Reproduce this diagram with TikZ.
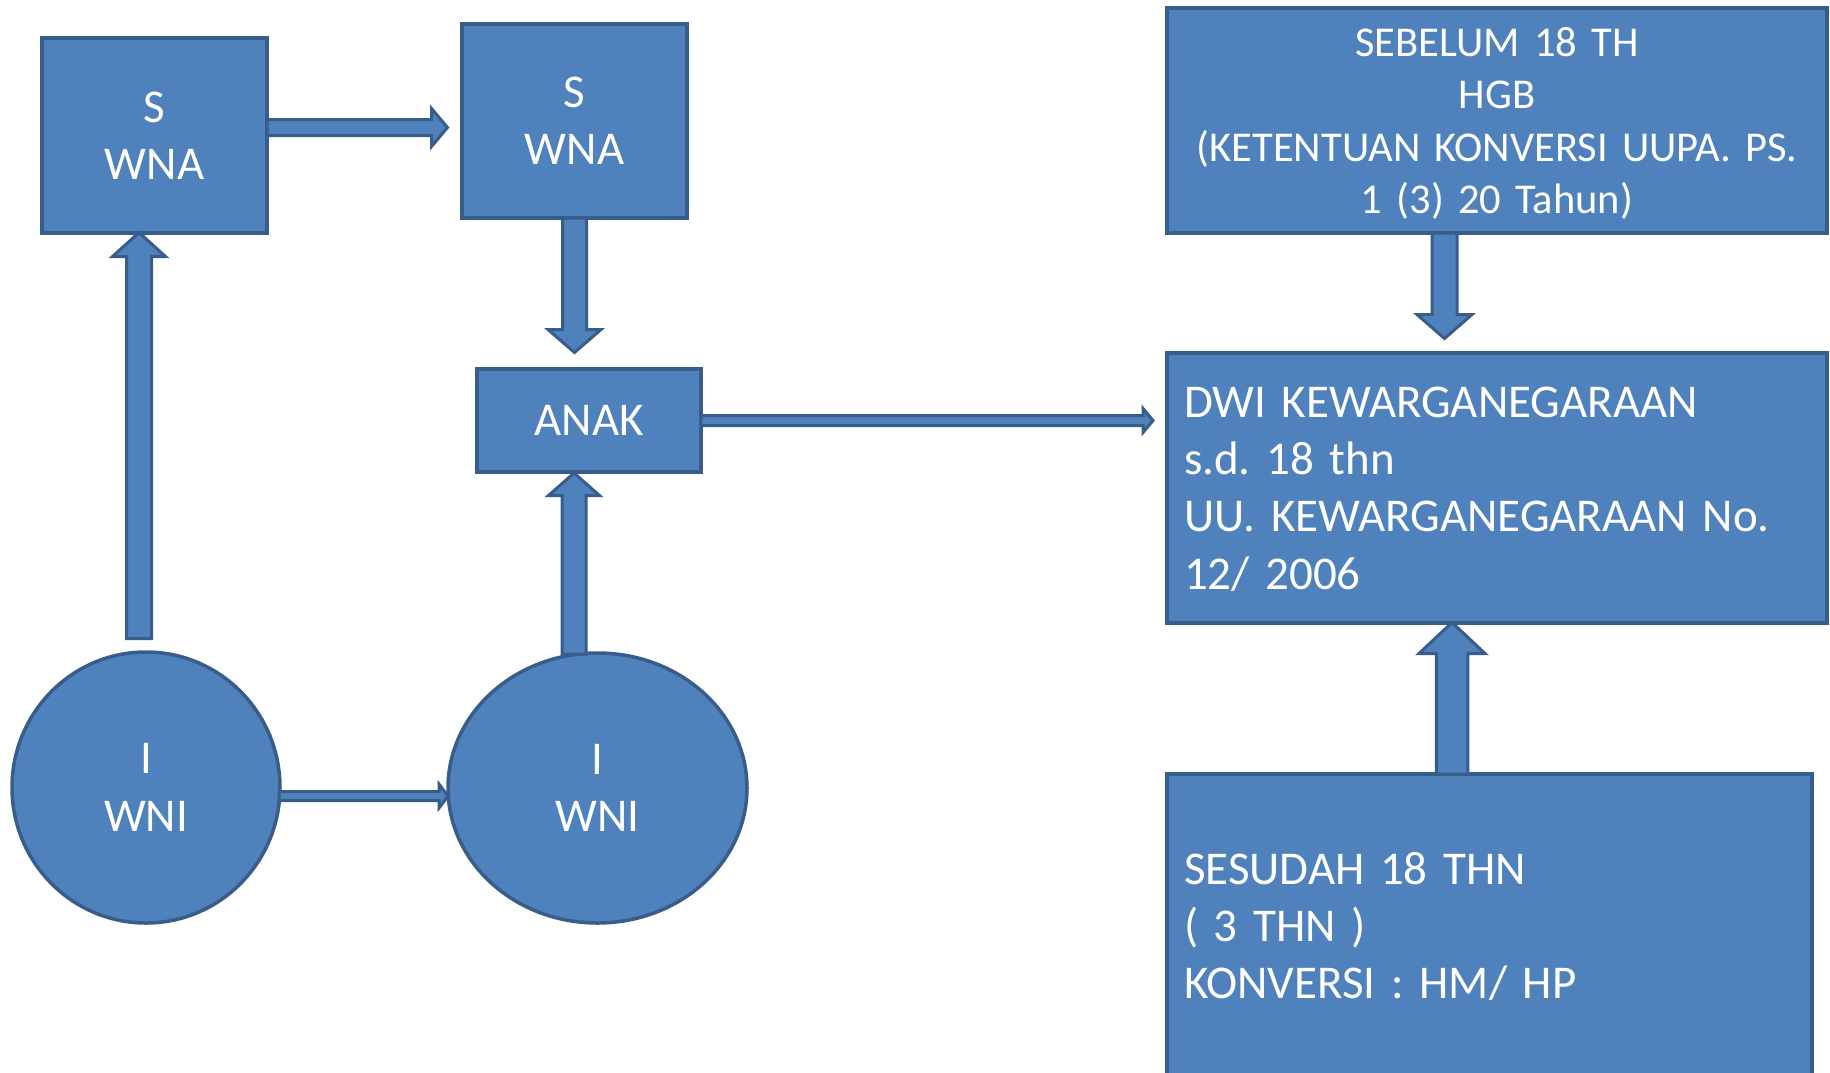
\documentclass[tikz,border=0pt]{standalone}
\usepackage{fontspec}
\setmainfont{Carlito}
\frenchspacing
\usetikzlibrary{calc,shapes.geometric}
\definecolor{bfill}{HTML}{4F81BD}
\definecolor{bline}{HTML}{385D8A}
\newcommand\blockarr[5]{%
  \coordinate (ah) at ($(#2)!#5!(#1)$);
  \filldraw[barrow] ($(#1)!#3!90:(#2)$) -- ($(ah)!#3!90:(#2)$) -- ($(ah)!#4!90:(#2)$) -- (#2)
    -- ($(ah)!#4!-90:(#2)$) -- ($(ah)!#3!-90:(#2)$) -- ($(#1)!#3!-90:(#2)$) -- cycle;}
\begin{document}
\begin{tikzpicture}[x=1pt,y=-1pt,
  base/.style={draw=bline,fill=bfill,line width=3.5pt,text=white,outer sep=0pt,inner sep=0pt,
    font=\fontsize{47}{57.4}\selectfont\frenchspacing},
  rbox/.style={base,rectangle},
  ebox/.style={base,ellipse},
  barrow/.style={draw=bline,fill=bfill,line width=3pt,line join=miter}]
\useasboundingbox (0,0) rectangle (1830,1072);
\clip (0,0) rectangle (1830,1072);
% nodes
\node[rbox,minimum width=225pt,minimum height=195pt,align=center] (S1) at (154.5,135.5) {S\\WNA};
\node[rbox,minimum width=225pt,minimum height=194pt,align=center] (S2) at (574.5,121) {S\\WNA};
\node[rbox,minimum width=224pt,minimum height=103pt] (ANAK) at (589,420.5) {ANAK};
\node[ebox,minimum width=268pt,minimum height=271pt,align=center] (I1) at (146,787.5) {I\\WNI};
\node[ebox,minimum width=299pt,minimum height=270pt,align=center] (I2) at (597.5,788) {I\\WNI};
\node[rbox,minimum width=660pt,minimum height=225pt,inner xsep=10pt,text width=640pt,align=center,
  font=\fontsize{42.5}{52.3}\selectfont\frenchspacing] (SEB) at (1497,120.5)
  {SEBELUM 18 TH\\HGB\\(KETENTUAN KONVERSI UUPA. PS.\\\raisebox{0pt}[\height][0pt]{1 (3) 20 Tahun)}};
\node[rbox,minimum width=660pt,minimum height=270pt,inner xsep=17pt,text width=626pt,align=left] (DWI) at (1497,488)
  {DWI KEWARGANEGARAAN\\s.d. 18 thn\\UU. KEWARGANEGARAAN No.\\\raisebox{0pt}[\height][0pt]{12/ 2006}};
\node[rbox,minimum width=645pt,minimum height=303pt,inner xsep=17pt,text width=611pt,align=left] (SES) at (1489.5,925.5)
  {SESUDAH 18 THN\\( 3 THN )\\\raisebox{0pt}[\height][0pt]{KONVERSI : HM/ HP}};
% connectors
\coordinate (a1s) at ($(S1.east)+(0,-8)$);
\coordinate (a1t) at ($(S2.west)+(-14.5,6.5)$);
\blockarr{a1s}{a1t}{8pt}{19pt}{16pt}
\coordinate (a2s) at (S2.south);
\coordinate (a2t) at ($(ANAK.north)+(-14.5,-16.5)$);
\blockarr{a2s}{a2t}{12pt}{26.5pt}{23pt}
\coordinate (a3s) at ($(I1.north)+(-7,-13.5)$);
\coordinate (a3t) at ($(S1.south)+(-15.5,-0.5)$);
\blockarr{a3s}{a3t}{12.5pt}{26.5pt}{24pt}
\coordinate (a4s) at ($(I2.north)+(-23.5,1)$);
\coordinate (a4t) at ($(ANAK.south)+(-15,1)$);
\blockarr{a4s}{a4t}{12pt}{25.5pt}{22.5pt}
\coordinate (a5s) at ($(I1.east)+(-1,8.5)$);
\coordinate (a5t) at ($(I2.west)+(0,8)$);
\blockarr{a5s}{a5t}{4.5pt}{12pt}{9pt}
\coordinate (a6s) at (ANAK.east);
\coordinate (a6t) at ($(DWI.west)+(-14,-67.5)$);
\blockarr{a6s}{a6t}{5pt}{12pt}{10pt}
\coordinate (a7s) at ($(SEB.south)+(-52.5,0)$);
\coordinate (a7t) at ($(DWI.north)+(-52.5,-14.5)$);
\blockarr{a7s}{a7t}{12.5pt}{27.5pt}{24pt}
\coordinate (a8s) at ($(SES.north)+(-37.5,0)$);
\coordinate (a8t) at ($(DWI.south)+(-45,-0.5)$);
\blockarr{a8s}{a8t}{15.75pt}{33pt}{31pt}
\end{tikzpicture}
\end{document}
